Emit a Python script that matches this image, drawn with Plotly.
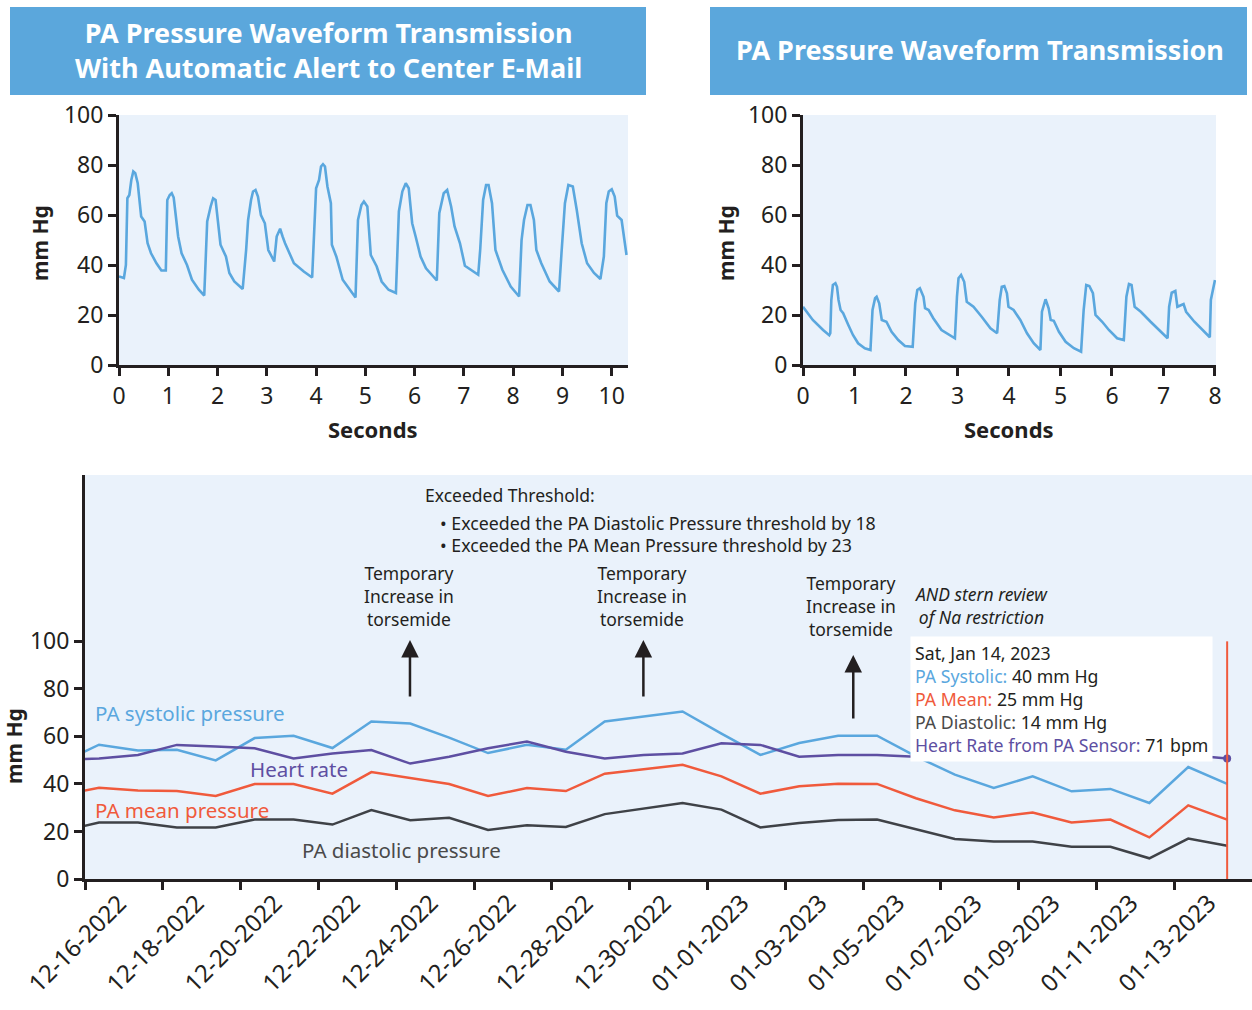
import plotly.graph_objects as go

FONT = "Noto Sans"
INK = "#231F20"
BLUE = "#5AA7DE"
RED = "#F05A3C"
GRAY = "#3F4247"
PURPLE = "#5E4FA2"
BG = "#EAF2FB"
HEAD = "#5BA7DC"

# ---------------- data: waveform 1 (seconds, mm Hg) ----------------
wave1_t = [0.0, 0.1, 0.14, 0.17, 0.21, 0.25, 0.29, 0.33, 0.38, 0.43, 0.45, 0.52, 0.58, 0.65, 0.76, 0.86, 0.95,
           0.98, 1.03, 1.07, 1.11, 1.17, 1.2, 1.27, 1.38, 1.48, 1.62, 1.73,
           1.79, 1.86, 1.91, 1.96, 2.0, 2.06, 2.17, 2.24, 2.34, 2.51,
           2.58, 2.62, 2.68, 2.72, 2.77, 2.82, 2.88, 2.96, 3.03, 3.1, 3.15,
           3.2, 3.27, 3.32, 3.37, 3.55, 3.75, 3.92,
           4.0, 4.06, 4.1, 4.14, 4.18, 4.23, 4.3, 4.32, 4.41, 4.54, 4.68, 4.8,
           4.85, 4.92, 4.97, 5.04, 5.11, 5.23, 5.33, 5.47, 5.62,
           5.68, 5.75, 5.82, 5.88, 5.95, 6.02, 6.12, 6.23, 6.45,
           6.5, 6.59, 6.66, 6.74, 6.81, 6.92, 7.02, 7.29,
           7.33, 7.39, 7.45, 7.5, 7.57, 7.64, 7.78, 7.95, 8.12,
           8.17, 8.22, 8.29, 8.35, 8.42, 8.47, 8.57, 8.74, 8.93,
           8.98, 9.05, 9.12, 9.21, 9.29, 9.39, 9.5, 9.64, 9.77,
           9.84, 9.89, 9.94, 10.0, 10.06, 10.11, 10.2, 10.3]
wave1_v = [35.4, 34.8, 40, 66.7, 68, 74, 77.4, 76.7, 72.7, 64.7, 59.4, 57.4, 48.7, 44.7, 40.7, 37.8, 37.8,
           66, 68, 68.7, 67, 56.7, 51.4, 44.7, 40, 34.1, 30.1, 27.8,
           57.4, 63.4, 66.7, 66, 59.4, 48.1, 43.4, 36.8, 33.4, 30.4,
           46, 58, 66, 69.4, 70, 67.4, 60, 56.7, 46, 43.4, 41.4,
           51.4, 54.5, 51.4, 48.7, 40.7, 37.4, 35,
           70.7, 74, 79.4, 80.3, 79.4, 71.4, 64.7, 48.1, 43.4, 34.1, 30.1, 27,
           58, 64, 65.4, 63.4, 44, 39.4, 33.4, 30.1, 28.8,
           61.4, 69.4, 72.7, 70.7, 56.7, 51.4, 43.4, 38.7, 33.8,
           60.7, 68.7, 70, 63.4, 55.4, 48.7, 39.7, 36.1,
           46, 66, 72, 72, 64.7, 46, 38.1, 31.4, 27.4,
           50, 58, 64, 64, 58, 46, 40.7, 33.4, 29.4,
           44.7, 64.7, 72, 71.4, 62, 48.7, 40.7, 36.8, 34.4,
           43.4, 64.7, 69.4, 70.3, 67.4, 59.7, 58, 44]

# ---------------- data: waveform 2 (seconds, mm Hg) ----------------
wave2_t = [0.0, 0.19, 0.39, 0.51, 0.53,
           0.55, 0.58, 0.63, 0.66, 0.69, 0.73, 0.78, 0.88, 0.97, 1.07, 1.2, 1.31,
           1.35, 1.4, 1.43, 1.48, 1.53, 1.62, 1.72, 1.85, 1.98, 2.13,
           2.18, 2.22, 2.27, 2.34, 2.37, 2.44, 2.53, 2.69, 2.86, 2.95,
           2.99, 3.02, 3.07, 3.13, 3.18, 3.31, 3.47, 3.64, 3.77,
           3.82, 3.86, 3.91, 3.96, 3.99, 4.09, 4.22, 4.35, 4.48, 4.61,
           4.64, 4.71, 4.77, 4.81, 4.87, 4.97, 5.1, 5.26, 5.4,
           5.45, 5.5, 5.56, 5.63, 5.68, 5.81, 5.94, 6.1, 6.23,
           6.28, 6.33, 6.38, 6.44, 6.56, 6.75, 6.92, 7.08,
           7.11, 7.16, 7.23, 7.27, 7.39, 7.44, 7.6, 7.76, 7.9,
           7.92, 8.0]
wave2_v = [23.3, 18, 14, 11.9, 12.7,
           26, 32, 32.7, 31.3, 26, 22, 20.7, 16, 12, 8.7, 6.7, 6,
           22, 26.7, 27.3, 24.7, 18, 17.3, 13.3, 10, 7.6, 7.3,
           24.7, 30, 30.7, 27.3, 22.7, 22, 18.7, 14, 12, 10.7,
           27.3, 34.7, 36, 33.3, 25.3, 23.3, 19.3, 14.7, 12.7,
           26, 31.3, 31.6, 28.7, 23.3, 22, 18, 12.7, 8.7, 6,
           21.3, 26.3, 22.7, 18, 17.7, 13.3, 9.3, 6.7, 5.3,
           22, 32, 31.6, 28.7, 20, 17.3, 14, 10.7, 10,
           27.3, 32.4, 32, 23.3, 21.3, 17.3, 14, 10.7,
           23.3, 28.9, 29.6, 23.3, 24.4, 21.3, 17.3, 14, 11.1,
           26, 34]

# ---------------- data: daily sensor readings ----------------
days = ["2022-12-15", "2022-12-16", "2022-12-17", "2022-12-18", "2022-12-19", "2022-12-20", "2022-12-21",
        "2022-12-22", "2022-12-23", "2022-12-24", "2022-12-25", "2022-12-26", "2022-12-27", "2022-12-28",
        "2022-12-29", "2022-12-30", "2022-12-31", "2023-01-01", "2023-01-02", "2023-01-03", "2023-01-04",
        "2023-01-05", "2023-01-06", "2023-01-07", "2023-01-08", "2023-01-09", "2023-01-10", "2023-01-11",
        "2023-01-12", "2023-01-13", "2023-01-14"]
reading_time = "08:40"
pa_systolic = [48.7, 56.5, 54.1, 54.4, 49.9, 59.3, 60.3, 55.1, 66.3, 65.4, 59.5, 53, 56.5, 54.4, 66.3, 68.5,
               70.5, 61.2, 52.2, 57.2, 60.3, 60.3, 51.6, 43.9, 38.3, 43.2, 36.9, 37.9, 32, 47.1, 40]
pa_mean = [35.3, 38.4, 37.2, 37, 34.9, 40, 40, 35.9, 45, 42.4, 40, 34.9, 38.3, 37, 44.3, 46.2,
           48.1, 43.2, 35.9, 39, 40.1, 40, 34, 28.9, 25.9, 28, 23.8, 25, 17.5, 31, 25]
pa_diastolic = [19.9, 23.8, 23.8, 21.7, 21.7, 25, 25, 22.9, 29, 24.7, 25.8, 20.6, 22.6, 21.9, 27.3, 29.7,
                32, 29.2, 21.7, 23.6, 24.8, 25, 20.8, 16.8, 15.8, 15.8, 13.6, 13.6, 8.7, 17, 14]
heart_rate = [70, 71, 73, 79, 78, 77, 71, 74, 76, 68, 72, 77, 81, 75, 71, 73,
              74, 80, 79, 72, 73, 73, 72, 71, 72, 72, 74, 72, 72, 73, 71]
date_ticks = ["2022-12-16", "2022-12-18", "2022-12-20", "2022-12-22", "2022-12-24", "2022-12-26",
              "2022-12-28", "2022-12-30", "2023-01-01", "2023-01-03", "2023-01-05", "2023-01-07",
              "2023-01-09", "2023-01-11", "2023-01-13"]
date_tick_labels = ["12-16-2022", "12-18-2022", "12-20-2022", "12-22-2022", "12-24-2022", "12-26-2022",
                    "12-28-2022", "12-30-2022", "01-01-2023", "01-03-2023", "01-05-2023", "01-07-2023",
                    "01-09-2023", "01-11-2023", "01-13-2023"]
torsemide_times = ["2022-12-24 08:30", "2022-12-30 08:30", "2023-01-04 18:00"]
wave_ticks1 = [0, 1, 2, 3, 4, 5, 6, 7, 8, 9, 10]
wave_ticks2 = [0, 1, 2, 3, 4, 5, 6, 7, 8]
mmhg_ticks = [0, 20, 40, 60, 80, 100]

times = [d + " " + reading_time for d in days]
sel = times[-1]

W, H = 1252, 1010
def px(x):
    return x / W
def py(y):
    return 1 - y / H

fig = go.Figure()

fig.add_trace(go.Scatter(x=wave1_t, y=wave1_v, mode="lines", line=dict(color=BLUE, width=2.6),
                         xaxis="x", yaxis="y", showlegend=False, hoverinfo="skip"))
fig.add_trace(go.Scatter(x=wave2_t, y=wave2_v, mode="lines", line=dict(color=BLUE, width=2.6),
                         xaxis="x2", yaxis="y2", showlegend=False, hoverinfo="skip"))

fig.add_trace(go.Scatter(x=times, y=pa_systolic, mode="lines", line=dict(color=BLUE, width=2.5),
                         xaxis="x3", yaxis="y3", showlegend=False, name="PA Systolic"))
fig.add_trace(go.Scatter(x=times, y=pa_mean, mode="lines", line=dict(color=RED, width=2.5),
                         xaxis="x3", yaxis="y3", showlegend=False, name="PA Mean"))
fig.add_trace(go.Scatter(x=times, y=pa_diastolic, mode="lines", line=dict(color=GRAY, width=2.5),
                         xaxis="x3", yaxis="y3", showlegend=False, name="PA Diastolic"))
fig.add_trace(go.Scatter(x=times, y=heart_rate, mode="lines", line=dict(color=PURPLE, width=2.5),
                         xaxis="x3", yaxis="y4", showlegend=False, name="Heart Rate"))
fig.add_trace(go.Scatter(x=[sel], y=[heart_rate[-1]], mode="markers",
                         marker=dict(color=PURPLE, size=8), xaxis="x3", yaxis="y4", showlegend=False))

ax_common = dict(showline=True, linecolor=INK, linewidth=3, ticks="outside", ticklen=8, tickwidth=3,
                 tickcolor=INK, showgrid=False, zeroline=False, automargin=False,
                 tickfont=dict(family=FONT, size=23, color=INK))

shapes = []
annotations = []

def note(text, x, y, size, color=INK, xanchor="center", yanchor="middle", **kw):
    annotations.append(dict(text=text, xref="paper", yref="paper", x=px(x), y=py(y), xanchor=xanchor,
                            yanchor=yanchor, showarrow=False, font=dict(family=FONT, size=size, color=color),
                            **kw))

layout = dict(
    width=W, height=H, margin=dict(l=0, r=0, t=0, b=0, pad=0, autoexpand=False),
    paper_bgcolor="white", plot_bgcolor=BG, showlegend=False,
    font=dict(family=FONT, color=INK),
    xaxis=dict(domain=[px(119), px(628)], range=[0, 10.33], tickvals=wave_ticks1, anchor="y", **ax_common),
    yaxis=dict(domain=[py(365), py(115)], range=[0, 100], tickvals=mmhg_ticks, anchor="x", **ax_common),
    xaxis2=dict(domain=[px(803), px(1216)], range=[0, 8.02], tickvals=wave_ticks2, anchor="y2", **ax_common),
    yaxis2=dict(domain=[py(365), py(115)], range=[0, 100], tickvals=mmhg_ticks, anchor="x2", **ax_common),
    xaxis3=dict(domain=[px(85), 1.0], range=["2022-12-16", "2023-01-15"], type="date", anchor="y3",
                tickvals=date_ticks, showticklabels=False, automargin=False,
                showline=True, linecolor=INK, linewidth=3, ticks="outside", ticklen=8, tickwidth=2.5,
                tickcolor=INK, showgrid=False, zeroline=False),
    yaxis3=dict(domain=[py(879), py(475)], range=[0, 170], tickvals=mmhg_ticks, anchor="x3", **ax_common),
    yaxis4=dict(overlaying="y3", range=[0, 238], visible=False, anchor="x3", automargin=False),
)

# header boxes
shapes.append(dict(type="rect", xref="paper", yref="paper", x0=px(10), x1=px(646), y0=py(95), y1=py(7),
                   fillcolor=HEAD, line=dict(width=0), layer="below"))
shapes.append(dict(type="rect", xref="paper", yref="paper", x0=px(710), x1=px(1247), y0=py(95), y1=py(7),
                   fillcolor=HEAD, line=dict(width=0), layer="below"))
note("<b>PA Pressure Waveform Transmission<br>With Automatic Alert to Center E-Mail</b>", 328, 50, 27,
     color="white", align="center")
note("<b>PA Pressure Waveform Transmission</b>", 980, 49, 27, color="white")

# axis titles
for xc in (373, 1009):
    note("<b>Seconds</b>", xc, 429, 22)
for xc, yc in ((40, 243), (726, 243), (14, 746)):
    note("<b>mm Hg</b>", xc, yc, 21, textangle=-90)

# rotated date labels
for d, lab in zip(date_ticks, date_tick_labels):
    annotations.append(dict(text=lab, xref="x3", yref="paper", x=d, y=py(884), xanchor="center",
                            yanchor="top", textangle=-45, showarrow=False, xshift=-8,
                            font=dict(family=FONT, size=24, color=INK)))

# series labels
for txt, col, x0, yc in (("PA systolic pressure", BLUE, 93, 713), ("Heart rate", PURPLE, 248, 769),
                         ("PA mean pressure", RED, 93, 810), ("PA diastolic pressure", "#4A4A4A", 300, 850)):
    note(txt, x0, yc, 20.5, color=col, xanchor="left")

# threshold text
note("Exceeded Threshold:", 423, 495, 17.5, xanchor="left")
note("• Exceeded the PA Diastolic Pressure threshold by 18", 438, 523, 17.8, xanchor="left")
note("• Exceeded the PA Mean Pressure threshold by 23", 438, 545, 17.8, xanchor="left")

# torsemide notes + arrows
for t, xc, yc, head, tail in ((torsemide_times[0], 409, 596, 640, 698),
                              (torsemide_times[1], 642, 596, 640, 698),
                              (torsemide_times[2], 851, 606, 655, 720)):
    note("Temporary<br>Increase in<br>torsemide", xc, yc, 17.5, align="center")
    annotations.append(dict(text="", xref="x3", yref="paper", x=t, y=py(head), ax=0, ay=tail - head,
                            axref="pixel", ayref="pixel", showarrow=True, arrowhead=2, arrowsize=1.4,
                            arrowwidth=2.5, arrowcolor=INK))
note("<i>AND stern review<br>of Na restriction</i>", 981, 605, 17.5, align="center")

# selected-point readout
readout = ("Sat, Jan 14, 2023<br>"
           f"<span style='color:{BLUE}'>PA Systolic:</span> {pa_systolic[-1]:.0f} mm Hg<br>"
           f"<span style='color:{RED}'>PA Mean:</span> {pa_mean[-1]:.0f} mm Hg<br>"
           f"<span style='color:#4A4A4A'>PA Diastolic:</span> {pa_diastolic[-1]:.0f} mm Hg<br>"
           f"<span style='color:{PURPLE}'>Heart Rate from PA Sensor:</span> {heart_rate[-1]:.0f} bpm")
note(readout, 910, 636, 17.7, xanchor="left", yanchor="top", align="left", bgcolor="white", borderpad=4)

shapes.append(dict(type="line", xref="x3", yref="y3", x0=sel, x1=sel, y0=0, y1=100,
                   line=dict(color=RED, width=2)))

layout["shapes"] = shapes
layout["annotations"] = annotations
fig.update_layout(**layout)
fig.write_html("out.html", config={"displayModeBar": False},
               post_script="document.body.style.margin='0px';document.body.style.overflow='hidden';")
